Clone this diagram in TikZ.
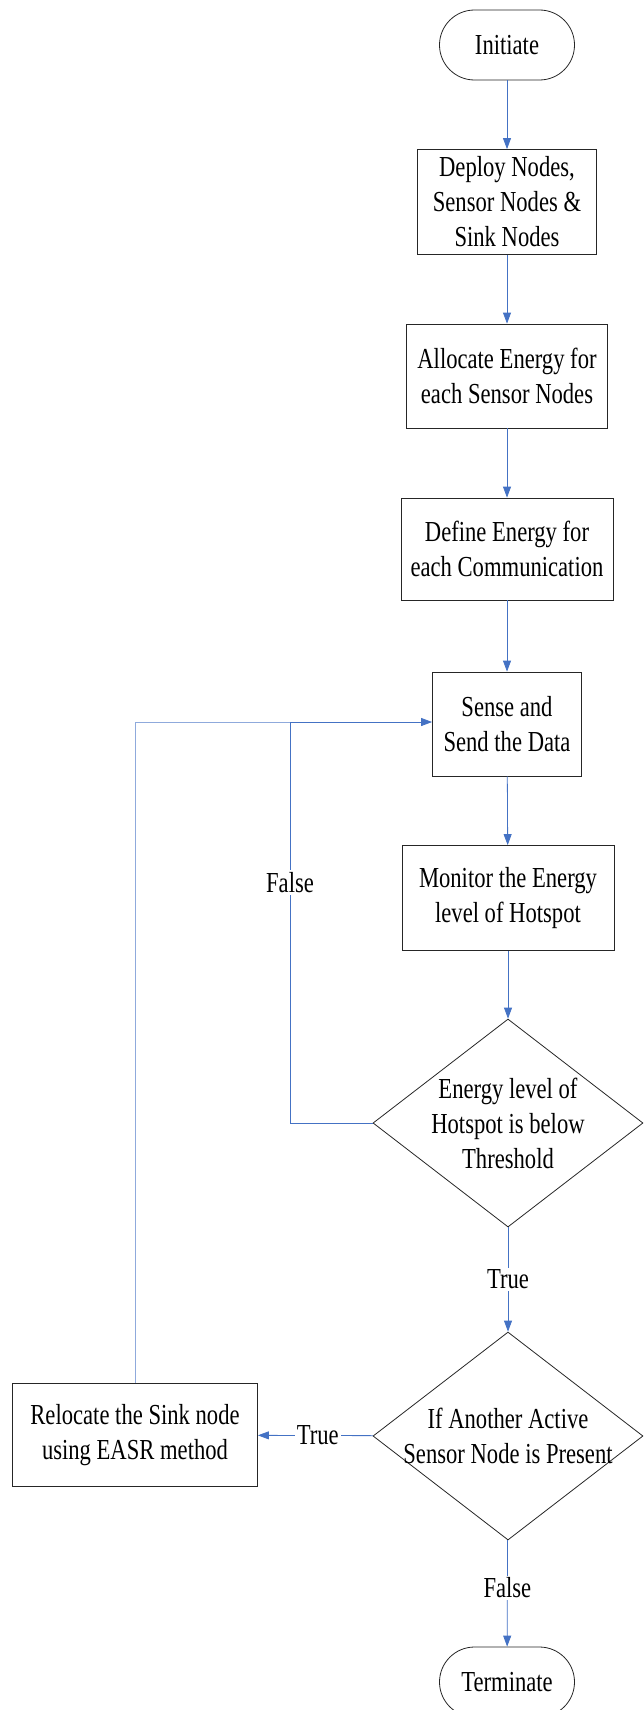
\documentclass[tikz,border=0pt]{standalone}
\usepackage{fontspec}
\setmainfont{Liberation Serif}[FakeStretch=0.78]
\usetikzlibrary{shapes.geometric,arrows.meta}
\definecolor{flow}{HTML}{4472C4}
\definecolor{flowlt}{HTML}{8FAADC}
\definecolor{edge}{HTML}{262626}
\tikzset{
  txt/.style={font=\fontsize{29}{35}\selectfont, align=center},
  proc/.style={txt, draw=edge, line width=0.8pt, inner sep=0pt},
  term/.style={proc, rounded corners=35pt, minimum width=135pt, minimum height=70pt},
  dec/.style={diamond, draw=edge, line width=0.8pt, inner sep=0pt, minimum width=270pt, minimum height=208pt},
  arr/.style={draw=flow, line width=0.8pt, -{Triangle[width=8pt,length=11pt]}},
  wire/.style={draw=flow, line width=0.8pt},
  lbl/.style={txt, fill=white, inner sep=2pt},
}

\begin{document}
\begin{tikzpicture}[x=1pt,y=-1pt]
  \useasboundingbox (0,0) rectangle (644,1710);
  % main column
  \node[term] (init) at (507,45) {Initiate};
  \node[proc, minimum width=179pt, minimum height=105pt] (deploy) at (507,202) {Deploy Nodes,\\Sensor Nodes \&\\Sink Nodes};
  \node[proc, minimum width=201pt, minimum height=104pt] (alloc) at (507,376) {Allocate Energy for\\each Sensor Nodes};
  \node[proc, minimum width=212pt, minimum height=102pt] (define) at (507,549) {Define Energy for\\each Communication};
  \node[proc, minimum width=149pt, minimum height=104pt] (sense) at (507,724) {Sense and\\Send the Data};
  \node[proc, minimum width=212pt, minimum height=105pt] (monitor) at (508,898) {Monitor the Energy\\level of Hotspot};
  \node[dec, label={[txt]center:{Energy level of\\Hotspot is below\\Threshold}}] (below) at (508,1123) {};
  \node[dec, label={[txt]center:{If Another Active\\Sensor Node is Present}}] (active) at (508,1436) {};
  \node[proc, minimum width=245pt, minimum height=103pt] (reloc) at (135,1435) {Relocate the Sink node\\using EASR method};
  \node[term] (stop) at (507,1682) {Terminate};
  \coordinate (loop) at (290,722);

  \draw[arr] (init) -- (deploy);
  \draw[arr] (deploy) -- (alloc);
  \draw[arr] (alloc) -- (define);
  \draw[arr] (define) -- (sense);
  \draw[arr] (sense) -- (monitor);
  \draw[arr] (monitor) -- (below);
  \draw[arr] (below) -- node[lbl]{True} (active);
  \draw[arr] (active) -- node[lbl, pos=0.48]{True} (reloc);
  \draw[arr] (active) -- node[lbl, pos=0.45]{False} (stop);
  % feedback to sensing
  \draw[wire] (below.west) -| node[lbl, pos=0.8]{False} (loop);
  \draw[wire, draw=flowlt] (reloc.north) |- (loop);
  \draw[arr] (loop) -- (sense.west |- loop);
\end{tikzpicture}
\end{document}
